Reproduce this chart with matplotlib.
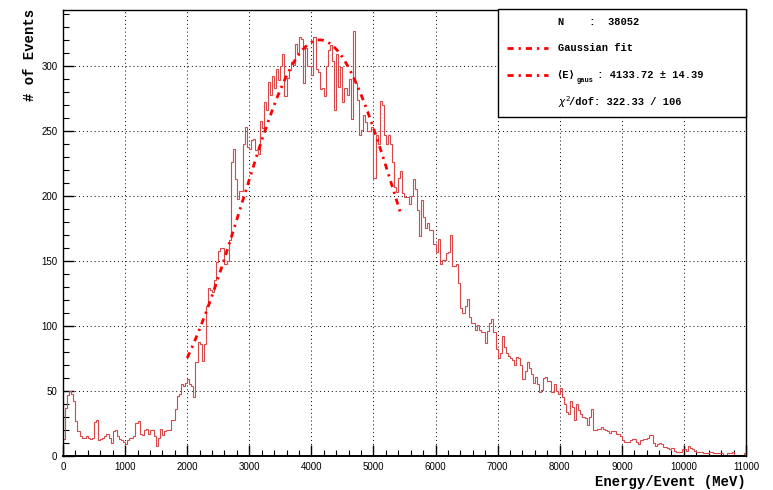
import numpy as np
import matplotlib
matplotlib.use('Agg')
import matplotlib.pyplot as plt
from matplotlib.patches import Rectangle
from matplotlib.lines import Line2D

# histogram: 330 bins between 0 and 11000 MeV, one row = 1000 MeV
e_min, e_max = 0, 11000
counts = [
    13, 37, 47, 50, 48, 42, 27, 19, 15, 14, 14, 15, 14, 13, 14, 26, 28, 12, 13, 14, 15, 17, 14, 10, 19, 20, 15, 13, 12, 11,
    9, 12, 14, 14, 15, 25, 27, 17, 16, 20, 21, 17, 20, 20, 15, 8, 14, 21, 16, 19, 20, 20, 28, 28, 36, 46, 48, 55, 54, 56,
    59, 55, 54, 45, 72, 88, 86, 73, 86, 115, 129, 128, 126, 135, 149, 158, 160, 160, 148, 150, 166, 226, 236, 213, 198, 204, 204, 240, 253, 238,
    236, 243, 244, 235, 232, 258, 252, 272, 266, 288, 278, 292, 283, 298, 289, 300, 309, 277, 291, 297, 303, 301, 317, 310, 322, 321, 287, 314, 300, 300,
    293, 322, 298, 295, 282, 283, 277, 300, 312, 316, 304, 266, 309, 284, 299, 272, 283, 278, 290, 259, 327, 287, 274, 247, 251, 262, 257, 250, 250, 253,
    214, 247, 240, 273, 270, 247, 240, 247, 240, 226, 207, 203, 214, 219, 202, 199, 199, 194, 200, 213, 205, 189, 169, 197, 184, 175, 179, 174, 174, 163,
    157, 167, 148, 151, 151, 156, 157, 170, 146, 146, 148, 133, 114, 110, 115, 121, 107, 102, 102, 97, 101, 97, 95, 95, 87, 96, 102, 105, 95, 82,
    75, 79, 92, 84, 79, 77, 75, 74, 70, 76, 75, 70, 59, 65, 72, 68, 63, 56, 61, 55, 49, 51, 60, 61, 58, 58, 49, 55, 50, 48,
    52, 45, 40, 34, 32, 42, 38, 28, 40, 35, 32, 30, 29, 24, 30, 36, 20, 20, 21, 21, 22, 21, 20, 19, 18, 19, 19, 17, 17, 15,
    12, 11, 11, 11, 12, 13, 13, 11, 9, 12, 13, 13, 14, 16, 16, 10, 8, 9, 10, 9, 7, 7, 6, 5, 6, 4, 3, 3, 3, 5,
    5, 4, 8, 6, 5, 4, 3, 3, 3, 2, 2, 2, 3, 3, 2, 2, 2, 2, 2, 1, 1, 2, 2, 3, 1, 1, 1, 1, 0, 2,
]

# gaussian fit
fit_mean = 4133.72
fit_sigma = 1255
fit_amp = 320
fit_range = [2000, 5450]

stat_lines = ['N    :  38052', 'Gaussian fit', ' : 4133.72 \u00b1 14.39', '/dof: 322.33 / 106']

W, H = 773, 490
def px(x, y):
    return x / W, 1 - y / H

mono = ['Liberation Mono', 'DejaVu Sans Mono']
fitstyle = (0, (2.2, 1.8, 0.8, 1.8))

fig = plt.figure(figsize=(W / 100, H / 100), dpi=100)
ax = fig.add_axes([63 / W, 1 - 456 / H, 683 / W, 446 / H])

edges = np.linspace(e_min, e_max, len(counts) + 1)
ax.stairs(counts, edges, baseline=0, color='#d84848', lw=0.8)

xf = np.linspace(fit_range[0], fit_range[1], 300)
yf = fit_amp * np.exp(-0.5 * ((xf - fit_mean) / fit_sigma) ** 2)
ax.plot(xf, yf, color='red', lw=2, ls=fitstyle)

ax.set_xlim(e_min, e_max)
ax.set_ylim(0, 343)
ax.set_xticks(np.arange(0, 11001, 1000))
ax.set_xticks(np.arange(0, 11001, 200), minor=True)
ax.set_yticks(np.arange(0, 301, 50))
ax.set_yticks(np.arange(0, 341, 10), minor=True)
ax.tick_params(direction='in', which='both', top=False, right=False, labelsize=7, pad=4)
ax.tick_params(which='major', length=8, width=1)
ax.tick_params(which='minor', length=4, width=0.8)
for lab in ax.get_xticklabels() + ax.get_yticklabels():
    lab.set_family('Liberation Sans')
ax.grid(True, which='major', color='black', ls=(0, (1, 3)), lw=0.7)
ax.set_axisbelow(True)
for s in ax.spines.values():
    s.set_linewidth(1)
ax.spines['bottom'].set_linewidth(1.4)

fig.text(*px(746, 482), 'Energy/Event (MeV)', ha='right', va='center',
         family=mono, weight='bold', size=10)
fig.text(*px(30, 9), '# of Events', ha='center', va='top', rotation=90,
         family=mono, weight='bold', size=10)

# stats box
x0, y0 = px(498, 117)
fig.patches.append(Rectangle((x0, y0), 248 / W, 108 / H, transform=fig.transFigure,
                             facecolor='white', edgecolor='black', lw=1, zorder=5))
tk = dict(family=mono, weight='bold', size=7.5, va='center', zorder=6)
fig.text(*px(558, 22), stat_lines[0], **tk)
fig.text(*px(558, 48), stat_lines[1], **tk)
fig.text(*px(556, 75), '\u27e8E\u27e9', **tk)
fig.text(*px(577, 80), 'gaus', family=mono, weight='bold', size=5, va='center', zorder=6)
fig.text(*px(591, 75), stat_lines[2], **tk)
fig.text(*px(558, 102), r'$\chi^{2}$', **tk)
fig.text(*px(569, 102), stat_lines[3], **tk)
for yy in (48, 75):
    a, b = px(507, yy)
    c, d = px(548, yy)
    fig.lines.append(Line2D([a, c], [b, d], transform=fig.transFigure, color='red',
                            lw=2, ls=fitstyle, zorder=6))

fig.savefig('out.png', dpi=100)
